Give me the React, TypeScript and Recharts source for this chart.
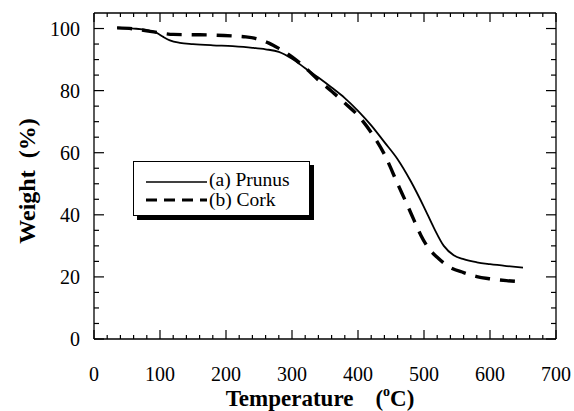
import React from 'react';
import { LineChart, Line, XAxis, YAxis, Legend } from 'recharts';

const prunusTemp = [35, 60, 80, 95, 105, 115, 130, 150, 180, 210, 240, 260, 280, 300, 320, 340, 360, 380, 400, 420, 440, 460, 480, 500, 515, 530, 545, 560, 580, 600, 625, 650];
const prunusWeight = [100.3, 100.0, 99.5, 98.6, 97.3, 96.2, 95.4, 95.0, 94.6, 94.3, 93.8, 93.3, 92.5, 90.3, 87.2, 84.2, 81.0, 77.6, 73.5, 68.8, 63.4, 57.9, 50.8, 42.5, 35.8, 30.0, 27.0, 25.7, 24.7, 24.1, 23.5, 23.0];

const corkTemp = [35, 60, 85, 100, 120, 150, 180, 210, 230, 250, 265, 280, 300, 320, 340, 360, 380, 400, 420, 440, 460, 475, 485, 495, 505, 520, 540, 560, 580, 600, 625, 650];
const corkWeight = [100.2, 99.9, 99.1, 98.6, 98.1, 98.0, 97.9, 97.6, 97.3, 96.5, 95.3, 93.6, 90.9, 87.4, 83.4, 79.8, 76.0, 72.0, 66.5, 59.5, 50.0, 43.0, 38.2, 33.5, 29.8, 26.3, 23.0, 21.4, 20.1, 19.4, 18.8, 18.4];

const seriesNames = ['(a) Prunus', '(b) Cork'];

const xTicks = [0, 20, 40, 60, 80, 100, 120, 140, 160, 180, 200, 220, 240, 260, 280, 300, 320, 340, 360, 380, 400, 420, 440, 460, 480, 500, 520, 540, 560, 580, 600, 620, 640, 660, 680, 700];
const xLabelTicks = [0, 100, 200, 300, 400, 500, 600, 700];
const yTicks = [0, 5, 10, 15, 20, 25, 30, 35, 40, 45, 50, 55, 60, 65, 70, 75, 80, 85, 90, 95, 100];
const yLabelTicks = [0, 20, 40, 60, 80, 100];

const prunusData = prunusTemp.map((t, i) => ({ t, w: prunusWeight[i] }));
const corkData = corkTemp.map((t, i) => ({ t, w: corkWeight[i] }));

const FONT = '"Liberation Serif", "Times New Roman", serif';

const BottomTick = (props: any) => {
  const { x, y, payload } = props;
  const v = payload.value;
  const major = xLabelTicks.includes(v);
  return (
    <g>
      <line x1={x} x2={x} y1={y} y2={y - (major ? 9 : 4)} stroke="#000" strokeWidth={1.2} />
      {major && (
        <text x={x} y={y + 42} textAnchor="middle" fontFamily={FONT} fontSize={20} fill="#000">
          {v}
        </text>
      )}
    </g>
  );
};

const TopTick = (props: any) => {
  const { x, y, payload } = props;
  const major = xLabelTicks.includes(payload.value);
  return <line x1={x} x2={x} y1={y} y2={y + (major ? 9 : 4)} stroke="#000" strokeWidth={1.2} />;
};

const LeftTick = (props: any) => {
  const { x, y, payload } = props;
  const v = payload.value;
  const major = yLabelTicks.includes(v);
  return (
    <g>
      <line x1={x} x2={x + (major ? 10 : 5)} y1={y} y2={y} stroke="#000" strokeWidth={1.2} />
      {major && (
        <text x={x - 14} y={y + 7} textAnchor="end" fontFamily={FONT} fontSize={20} fill="#000">
          {v}
        </text>
      )}
    </g>
  );
};

const RightTick = (props: any) => {
  const { x, y, payload } = props;
  const major = yLabelTicks.includes(payload.value);
  return <line x1={x} x2={x - (major ? 10 : 5)} y1={y} y2={y} stroke="#000" strokeWidth={1.2} />;
};

const XTitle = (props: any) => {
  const vb = props.viewBox || {};
  const cx = vb.x + vb.width / 2 - 5;
  const y = 405.5;
  return (
    <text x={cx} y={y} textAnchor="middle" fontFamily={FONT} fontWeight="bold" fontSize={23} fill="#000">
      Temperature
      <tspan dx={22}>(</tspan>
      <tspan dy={-10} fontSize={14}>o</tspan>
      <tspan dy={10}>C)</tspan>
    </text>
  );
};

const YTitle = (props: any) => {
  const vb = props.viewBox || {};
  const cx = 35;
  const cy = vb.y + vb.height / 2 + 5;
  return (
    <text
      x={cx}
      y={cy}
      transform={`rotate(-90, ${cx}, ${cy})`}
      textAnchor="middle"
      fontFamily={FONT}
      fontWeight="bold"
      fontSize={24}
      fill="#000"
    >
      Weight
      <tspan dx={12}>(%)</tspan>
    </text>
  );
};

const LegendBox = (props: any) => {
  const payload = props.payload || [];
  const labelOf = (i: number) => (payload[i] && payload[i].value) || seriesNames[i];
  return (
    <div
      style={{
        width: 177,
        height: 55,
        boxSizing: 'border-box',
        border: '1.3px solid #000',
        boxShadow: '4px 4px 0 #000',
        background: '#fff',
        position: 'relative',
      }}
    >
      <svg width={177} height={55} style={{ position: 'absolute', left: -1, top: -1 }}>
        <line x1={13} x2={74} y1={21} y2={21} stroke="#000" strokeWidth={1.6} />
        <text x={76} y={25} fontFamily={FONT} fontSize={19.5} fill="#000">
          {labelOf(0)}
        </text>
        <line x1={13} x2={74} y1={39} y2={39} stroke="#000" strokeWidth={3.2} strokeDasharray="11 7" />
        <text x={76} y={45} fontFamily={FONT} fontSize={19.5} fill="#000">
          {labelOf(1)}
        </text>
      </svg>
    </div>
  );
};

export default function App() {
  return (
    <div style={{ position: 'absolute', left: 0, top: 0, width: 574, height: 411, background: '#fff' }}>
      <LineChart width={574} height={411} margin={{ top: 12, right: 17, bottom: 71, left: 93 }}>
        <XAxis
          dataKey="t"
          type="number"
          domain={[0, 700]}
          allowDataOverflow
          ticks={xTicks}
          interval={0}
          height={1}
          tickSize={0}
          tickMargin={0}
          tickLine={false}
          axisLine={{ stroke: '#000', strokeWidth: 1.3 }}
          tick={<BottomTick />}
          label={<XTitle />}
        />
        <XAxis
          xAxisId="top"
          orientation="top"
          dataKey="t"
          type="number"
          domain={[0, 700]}
          allowDataOverflow
          ticks={xTicks}
          interval={0}
          height={1}
          tickSize={0}
          tickMargin={0}
          tickLine={false}
          axisLine={{ stroke: '#000', strokeWidth: 1.3 }}
          tick={<TopTick />}
        />
        <YAxis
          type="number"
          domain={[0, 105]}
          allowDataOverflow
          ticks={yTicks}
          interval={0}
          width={1}
          tickSize={0}
          tickMargin={0}
          tickLine={false}
          axisLine={{ stroke: '#000', strokeWidth: 1.3 }}
          tick={<LeftTick />}
          label={<YTitle />}
        />
        <YAxis
          yAxisId="right"
          orientation="right"
          type="number"
          domain={[0, 105]}
          allowDataOverflow
          ticks={yTicks}
          interval={0}
          width={1}
          tickSize={0}
          tickMargin={0}
          tickLine={false}
          axisLine={{ stroke: '#000', strokeWidth: 1.3 }}
          tick={<RightTick />}
        />
        <Line
          data={prunusData}
          dataKey="w"
          name={seriesNames[0]}
          type="monotone"
          stroke="#000"
          strokeWidth={1.8}
          dot={false}
          isAnimationActive={false}
        />
        <Line
          data={corkData}
          dataKey="w"
          name={seriesNames[1]}
          type="monotone"
          stroke="#000"
          strokeWidth={3.4}
          strokeDasharray="15 10"
          dot={false}
          isAnimationActive={false}
        />
        <Legend
          layout="vertical"
          align="center"
          verticalAlign="middle"
          content={<LegendBox />}
          wrapperStyle={{ left: 133, top: 161, width: 177, height: 55 }}
        />
      </LineChart>
    </div>
  );
}
